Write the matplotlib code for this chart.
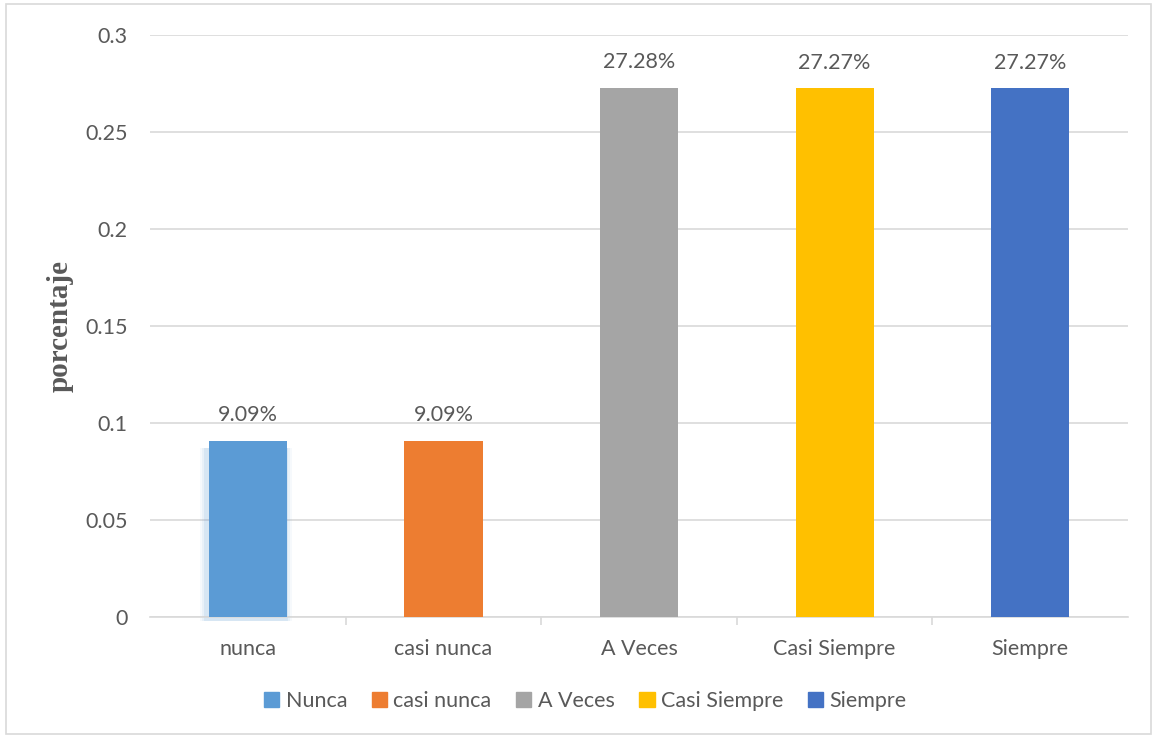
import matplotlib
matplotlib.use('Agg')
import matplotlib.pyplot as plt
import numpy as np
from matplotlib.patches import Rectangle

# Distribution of answers per response category
categorias = ["nunca", "casi nunca", "A Veces", "Casi Siempre", "Siempre"]
leyenda = ["Nunca", "casi nunca", "A Veces", "Casi Siempre", "Siempre"]
valores = [0.0909, 0.0909, 0.2728, 0.2727, 0.2727]
colores = ['#5B9BD5', '#ED7D31', '#A5A5A5', '#FFC000', '#4472C4']
yticks = [0, 0.05, 0.1, 0.15, 0.2, 0.25, 0.3]

TXT = '#595959'
GRID = '#D9D9D9'
FS = 15.5

plt.rcParams.update({
    'font.family': ['Lato', 'DejaVu Sans'],
    'font.size': FS,
})

fig = plt.figure(figsize=(11.57, 7.38), dpi=100)
ax = fig.add_axes([0.1296, 0.164, 0.8454, 0.7886])

x = np.arange(len(categorias))

# soft glow behind the first bar
for w, a in [(0.47, 0.05), (0.45, 0.08), (0.43, 0.12)]:
    ax.bar(x[0] - 0.01, 0.087 + 0.002, w, bottom=-0.002,
           color=colores[0], alpha=a, linewidth=0, zorder=2, clip_on=False)

bars = ax.bar(x, valores, 0.4, color=colores, zorder=3, linewidth=0)

for xi, v in zip(x, valores):
    ax.annotate(f'{v * 100:.2f}%', (xi, v), xytext=(0, 11),
                textcoords='offset points', ha='center', va='bottom',
                fontsize=FS, color=TXT)

ax.set_xlim(-0.5, len(categorias) - 0.5)
ax.set_ylim(0, 0.3)
ax.set_yticks(yticks)
ax.set_yticklabels([f'{t:g}' for t in yticks])
ax.set_xticks(x)
ax.set_xticklabels(categorias)
ax.tick_params(axis='x', length=0, pad=16, labelsize=FS, labelcolor=TXT)
ax.tick_params(axis='y', length=0, pad=16, labelsize=FS, labelcolor=TXT)

# tick marks between categories on the baseline
ax.set_xticks(np.arange(0.5, len(categorias) - 0.5), minor=True)
ax.tick_params(axis='x', which='minor', length=6, color=GRID, width=1.2)

ax.yaxis.grid(True, color=GRID, linewidth=1.2, zorder=0)
ax.set_axisbelow(True)
for s in ['top', 'right', 'left']:
    ax.spines[s].set_visible(False)
ax.spines['bottom'].set_color(GRID)
ax.spines['bottom'].set_linewidth(1.2)

ax.set_ylabel('porcentaje', family='Liberation Serif', fontweight='bold',
              fontsize=21, color=TXT, labelpad=8)

handles = [Rectangle((0, 0), 1, 1, color=c) for c in colores]
fig.legend(handles, leyenda, loc='center', bbox_to_anchor=(0.506, 0.05),
           ncol=5, frameon=False, fontsize=FS, labelcolor=TXT,
           handlelength=0.7, handleheight=0.7, handletextpad=0.3,
           columnspacing=1.15)

# chart border
fig.patches.append(Rectangle((0.005, 0.005), 0.99, 0.99, transform=fig.transFigure,
                             fill=False, edgecolor=GRID, linewidth=1.2))

fig.savefig('out.png', dpi=100)
